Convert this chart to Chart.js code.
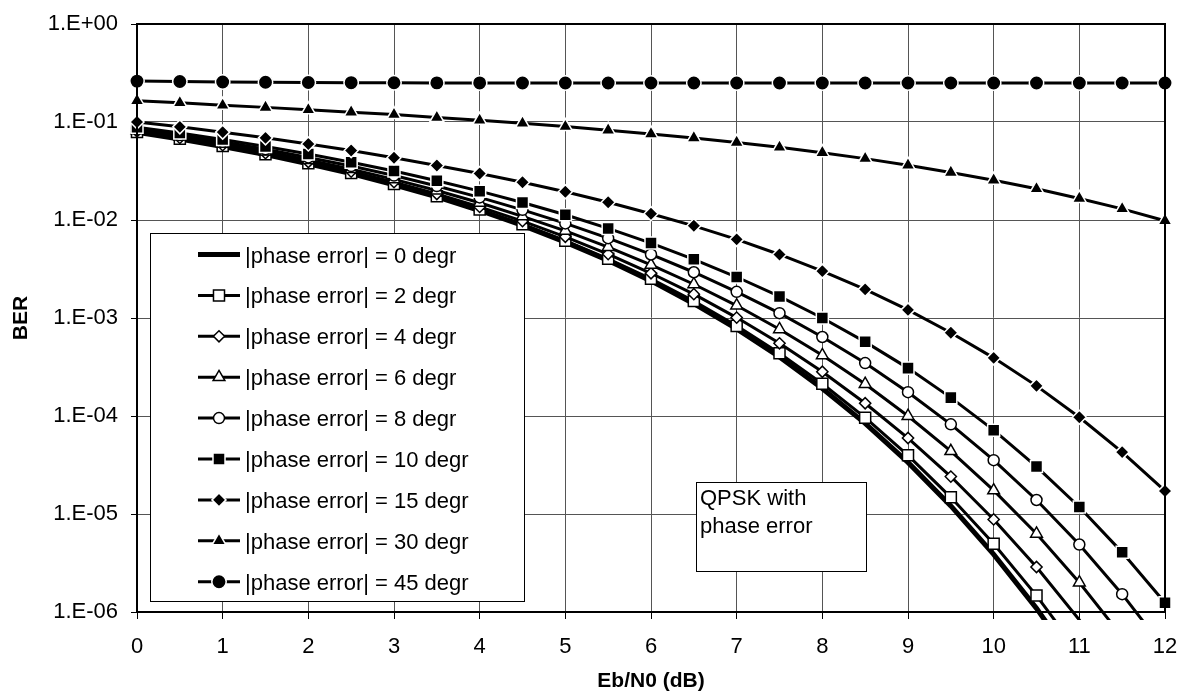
<!DOCTYPE html>
<html>
<head>
<meta charset="utf-8">
<title>QPSK BER with phase error</title>
<script src="https://cdn.jsdelivr.net/npm/chart.js@4.4.1/dist/chart.umd.min.js"></script>
<style>
  html, body { margin: 0; padding: 0; background: #fff; }
  #chartWrap { position: relative; width: 1181px; height: 698px; }
</style>
</head>
<body>
<div id="chartWrap"><canvas id="chartBer"></canvas></div>
<script>
// Eb/N0 points (dB)
const ebN0 = [0, 0.5, 1, 1.5, 2, 2.5, 3, 3.5, 4, 4.5, 5, 5.5, 6, 6.5, 7, 7.5, 8, 8.5, 9, 9.5, 10, 10.5, 11, 11.5, 12];

// axis ticks
const xTickValues = [0, 1, 2, 3, 4, 5, 6, 7, 8, 9, 10, 11, 12];
const xTickLabels = ['0', '1', '2', '3', '4', '5', '6', '7', '8', '9', '10', '11', '12'];
const yTickValues = [1e-6, 1e-5, 1e-4, 1e-3, 1e-2, 1e-1, 1];
const yTickLabels = ['1.E-06', '1.E-05', '1.E-04', '1.E-03', '1.E-02', '1.E-01', '1.E+00'];

const seriesLabels = [
  '|phase error| = 0 degr',
  '|phase error| = 2 degr',
  '|phase error| = 4 degr',
  '|phase error| = 6 degr',
  '|phase error| = 8 degr',
  '|phase error| = 10 degr',
  '|phase error| = 15 degr',
  '|phase error| = 30 degr',
  '|phase error| = 45 degr'
];

// BER
const berPe0 = [0.0786, 0.0671, 0.0563, 0.0466, 0.0375, 0.0297, 0.0229, 0.0172, 0.0125, 0.00882, 0.00595, 0.00387, 0.00239, 0.00140, 7.73e-4, 4.00e-4, 1.91e-4, 8.41e-5, 3.36e-5, 1.21e-5, 3.87e-6, 1.09e-6, 2.61e-7, 5.33e-8, 9.01e-9];
const berPe2 = [0.0793, 0.0676, 0.0568, 0.0470, 0.0380, 0.0301, 0.0233, 0.0175, 0.0128, 0.00904, 0.00615, 0.00402, 0.00251, 0.00149, 8.31e-4, 4.36e-4, 2.13e-4, 9.61e-5, 3.97e-5, 1.48e-5, 4.96e-6, 1.47e-6, 3.78e-7, 8.35e-8, 1.6e-8];
const berPe4 = [0.0804, 0.0688, 0.0580, 0.0481, 0.0391, 0.0312, 0.0243, 0.0184, 0.0136, 0.00974, 0.00674, 0.00449, 0.00286, 0.00175, 1.01e-3, 5.52e-4, 2.83e-4, 1.35e-4, 5.96e-5, 2.41e-5, 8.80e-6, 2.88e-6, 8.3e-7, 2.05e-7, 4.4e-8];
const berPe6 = [0.0824, 0.0708, 0.0600, 0.0499, 0.0409, 0.0330, 0.0260, 0.0200, 0.0150, 0.0109, 0.00776, 0.00530, 0.00349, 0.00221, 1.34e-3, 7.67e-4, 4.17e-4, 2.12e-4, 1.00e-4, 4.38e-5, 1.74e-5, 6.28e-6, 2.0e-6, 5.6e-7, 1.36e-7];
const berPe8 = [0.0851, 0.0736, 0.0628, 0.0527, 0.0435, 0.0355, 0.0284, 0.0222, 0.0170, 0.0127, 0.00923, 0.00652, 0.00445, 0.00293, 1.85e-3, 1.12e-3, 6.40e-4, 3.47e-4, 1.75e-4, 8.22e-5, 3.54e-5, 1.39e-5, 4.88e-6, 1.52e-6, 4.14e-7];
const berPe10 = [0.0886, 0.0772, 0.0664, 0.0563, 0.0471, 0.0388, 0.0316, 0.0252, 0.0197, 0.0151, 0.0113, 0.00821, 0.00581, 0.00397, 2.62e-3, 1.66e-3, 1.00e-3, 5.71e-4, 3.08e-4, 1.54e-4, 7.17e-5, 3.05e-5, 1.18e-5, 4.06e-6, 1.24e-6];
const berPe15 = [0.100, 0.0892, 0.0788, 0.0689, 0.0596, 0.0511, 0.0432, 0.0360, 0.0298, 0.0243, 0.0194, 0.0152, 0.0116, 0.00872, 0.00634, 0.00445, 0.00301, 0.00196, 1.21e-3, 7.08e-4, 3.92e-4, 2.03e-4, 9.71e-5, 4.28e-5, 1.72e-5];
const berPe30 = [0.165, 0.157, 0.148, 0.141, 0.133, 0.126, 0.119, 0.111, 0.104, 0.0970, 0.0898, 0.0826, 0.0755, 0.0687, 0.0619, 0.0552, 0.0486, 0.0423, 0.0362, 0.0306, 0.0255, 0.0208, 0.0166, 0.0130, 0.00984];
const berPe45 = [0.2614, 0.2586, 0.2562, 0.2544, 0.2530, 0.2519, 0.2512, 0.2507, 0.2504, 0.2502, 0.2501, 0.2500, 0.2500, 0.2500, 0.2500, 0.2500, 0.2500, 0.2500, 0.2500, 0.2500, 0.2500, 0.2500, 0.2500, 0.2500, 0.2500];

const seriesValues = [berPe0, berPe2, berPe4, berPe6, berPe8, berPe10, berPe15, berPe30, berPe45];

// text of the note box
const noteLines = ['QPSK with', 'phase error'];

// line / marker look per series (Excel style)
const seriesStyles = [
  { line: 5, marker: false, radius: 0, fill: '#000', edge: '#000' },
  { line: 3, marker: 'rect', radius: 7.8, fill: '#fff', edge: '#000' },
  { line: 3, marker: 'rectRot', radius: 5.6, fill: '#fff', edge: '#000' },
  { line: 3, marker: 'triangle', radius: 6.8, fill: '#fff', edge: '#000' },
  { line: 3, marker: 'circle', radius: 5.5, fill: '#fff', edge: '#000' },
  { line: 3, marker: 'rect', radius: 8.5, fill: '#000', edge: '#fff' },
  { line: 3, marker: 'rectRot', radius: 7, fill: '#000', edge: '#fff' },
  { line: 3, marker: 'triangle', radius: 8, fill: '#000', edge: '#fff' },
  { line: 3, marker: 'circle', radius: 7.2, fill: '#000', edge: '#fff' }
];

const FONT_FAMILY = "'Liberation Sans', Arial, Helvetica, sans-serif";
const Y_MIN = yTickValues[0];
const Y_MAX = yTickValues[yTickValues.length - 1];

Chart.defaults.font.family = FONT_FAMILY;
Chart.defaults.font.size = 22;
Chart.defaults.color = '#000';

/**
 * Frame around the plot area (top and right sides included)
 */
const plotFramePlugin = {
  id: 'plotFrame',
  afterDatasetsDraw(chart) {
    const { ctx, chartArea: a } = chart;
    ctx.save();
    ctx.strokeStyle = '#000';
    ctx.lineWidth = 2;
    ctx.strokeRect(a.left, a.top, a.right - a.left, a.bottom - a.top);
    ctx.restore();
  }
};

/**
 * Draws one marker, using the library helper when it is there
 */
function drawMarker(ctx, style, x, y) {
  ctx.fillStyle = style.fill;
  ctx.strokeStyle = style.edge;
  ctx.lineWidth = 1.5;
  if (Chart.helpers && Chart.helpers.drawPoint) {
    Chart.helpers.drawPoint(ctx, { pointStyle: style.marker, radius: style.radius, rotation: 0, borderWidth: 1.5 }, x, y);
    return;
  }
  ctx.beginPath();
  ctx.arc(x, y, style.radius, 0, Math.PI * 2);
  ctx.fill();
  ctx.stroke();
}

/**
 * Legend box inside the plot, and the note box
 */
const boxesPlugin = {
  id: 'boxes',
  afterDraw(chart) {
    const ctx = chart.ctx;
    ctx.save();

    // legend
    ctx.fillStyle = '#fff';
    ctx.strokeStyle = '#000';
    ctx.lineWidth = 1;
    ctx.fillRect(150.5, 233.5, 374, 368);
    ctx.strokeRect(150.5, 233.5, 374, 368);

    seriesLabels.forEach((label, i) => {
      const style = seriesStyles[i];
      const y = 254.5 + i * 40.9;
      ctx.strokeStyle = '#000';
      ctx.lineWidth = style.line;
      ctx.beginPath();
      ctx.moveTo(198, y);
      ctx.lineTo(240, y);
      ctx.stroke();
      if (style.marker) {
        drawMarker(ctx, style, 219, y);
      }
      ctx.fillStyle = '#000';
      ctx.font = '22px ' + FONT_FAMILY;
      ctx.textAlign = 'left';
      ctx.textBaseline = 'alphabetic';
      ctx.fillText(label, 245, y + 8);
    });

    // note box
    ctx.fillStyle = '#fff';
    ctx.strokeStyle = '#000';
    ctx.lineWidth = 1;
    ctx.fillRect(696.5, 482.5, 170, 89);
    ctx.strokeRect(696.5, 482.5, 170, 89);
    ctx.fillStyle = '#000';
    ctx.font = '22px ' + FONT_FAMILY;
    noteLines.forEach((line, i) => {
      ctx.fillText(line, 700, 505 + i * 28);
    });

    ctx.restore();
  }
};

function buildDatasets() {
  return seriesValues.map((values, i) => {
    const style = seriesStyles[i];
    return {
      label: seriesLabels[i],
      data: ebN0.map((x, j) => ({ x: x, y: values[j] })),
      borderColor: '#000',
      borderWidth: style.line,
      tension: 0,
      pointStyle: style.marker,
      pointBackgroundColor: style.fill,
      pointBorderColor: style.edge,
      pointBorderWidth: 1.5,
      // markers below the axis minimum are not shown
      pointRadius: c => (style.marker && c.raw && c.raw.y >= Y_MIN) ? style.radius : 0,
      pointHoverRadius: 0,
      clip: { left: 12, top: 12, right: 12, bottom: 8 },
      // last series on top, as in the spreadsheet
      order: seriesValues.length - 1 - i
    };
  });
}

const ctx = document.getElementById('chartBer').getContext('2d');
const chart = new Chart(ctx, {
  type: 'line',
  data: { datasets: buildDatasets() },
  options: {
    responsive: true,
    maintainAspectRatio: false,
    animation: false,
    events: [],
    layout: { padding: { left: 0, right: 16, top: 24, bottom: 0 } },
    plugins: {
      legend: { display: false },
      tooltip: { enabled: false },
      title: { display: false }
    },
    scales: {
      x: {
        type: 'linear',
        min: 0,
        max: 12,
        afterFit: scale => {
          scale.height = 86;
          scale.paddingLeft = 0;
          scale.paddingRight = 0;
        },
        afterBuildTicks: axis => { axis.ticks = xTickValues.map(v => ({ value: v })); },
        ticks: {
          autoSkip: false,
          maxRotation: 0,
          padding: 15,
          callback: (value, index) => xTickLabels[index]
        },
        grid: { color: '#555', lineWidth: 1, tickLength: 7, tickColor: '#000', drawTicks: true },
        border: { display: true, color: '#000', width: 2 },
        title: {
          display: true,
          text: 'Eb/N0 (dB)',
          font: { size: 21, weight: 'bold' },
          padding: { top: 0, bottom: 4 }
        }
      },
      y: {
        type: 'logarithmic',
        min: Y_MIN,
        max: Y_MAX,
        afterFit: scale => {
          scale.width = 137;
          scale.paddingTop = 0;
          scale.paddingBottom = 0;
        },
        afterBuildTicks: axis => { axis.ticks = yTickValues.map(v => ({ value: v })); },
        ticks: {
          autoSkip: false,
          padding: 13,
          callback: value => {
            const i = yTickValues.findIndex(v => Math.abs(Math.log10(v) - Math.log10(value)) < 1e-6);
            return i >= 0 ? yTickLabels[i] : '';
          }
        },
        grid: { color: '#555', lineWidth: 1, tickLength: 6, tickColor: '#000', drawTicks: true },
        border: { display: true, color: '#000', width: 2 },
        title: {
          display: true,
          text: 'BER',
          font: { size: 21, weight: 'bold' },
          padding: { top: 9, bottom: 0 }
        }
      }
    }
  },
  plugins: [plotFramePlugin, boxesPlugin]
});
</script>
</body>
</html>
